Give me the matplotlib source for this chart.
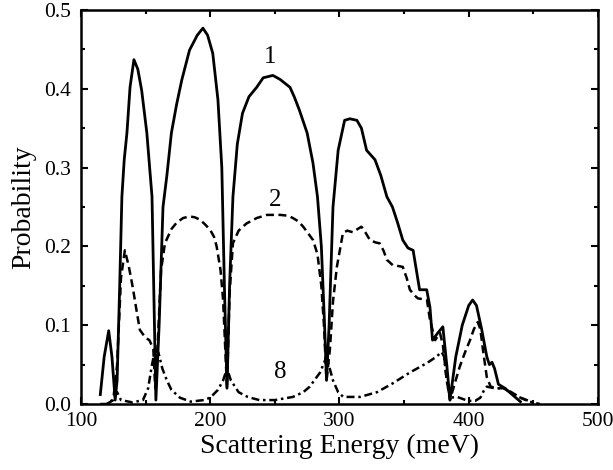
import matplotlib
matplotlib.use("Agg")
import matplotlib.pyplot as plt
from matplotlib.ticker import MultipleLocator, FormatStrFormatter

plt.rcParams['font.family'] = ['Liberation Serif', 'DejaVu Serif']

# curve 1 (solid)
e1 = [115, 118, 121.5, 124, 126.5, 128, 130, 131.7, 133.5, 135.6, 138, 141, 144, 147, 151, 155,
      158, 160.5, 163.5, 166.5, 170, 174, 178, 184, 190, 194.4, 198, 202, 206, 209, 211, 213,
      215, 217.6, 221, 225, 230, 236, 241, 248.5, 254, 261.7, 265, 269, 275, 279.5, 283, 286,
      288.5, 290, 292, 295, 299, 304, 308, 313.5, 317, 321, 327.5, 332, 336.7, 341, 345, 349,
      353, 357, 362, 367.5, 370, 372, 376, 380, 383, 385.5, 390, 395, 400, 403, 406, 410, 414,
      416, 418, 420, 423, 428, 435, 440]
p1 = [0.012, 0.06, 0.093, 0.06, 0.005, 0.03, 0.15, 0.263, 0.31, 0.344, 0.402, 0.437, 0.425, 0.398, 0.344, 0.263,
      0.005, 0.1, 0.25, 0.29, 0.344, 0.38, 0.411, 0.449, 0.468, 0.477, 0.468, 0.445, 0.386, 0.3, 0.15, 0.02,
      0.15, 0.263, 0.33, 0.369, 0.39, 0.402, 0.414, 0.417, 0.412, 0.402, 0.39, 0.373, 0.344, 0.306, 0.263, 0.2,
      0.1, 0.03, 0.1, 0.25, 0.322, 0.36, 0.362, 0.36, 0.35, 0.322, 0.31, 0.29, 0.263, 0.25, 0.23, 0.208,
      0.198, 0.195, 0.145, 0.145, 0.123, 0.081, 0.09, 0.098, 0.05, 0.005, 0.06, 0.1, 0.125, 0.132, 0.125, 0.095, 0.06,
      0.05, 0.053, 0.045, 0.025, 0.02, 0.01, 0.003]

# curve 2 (dashed)
e2 = [120, 125, 128, 131, 134, 137, 140, 143, 145.6, 150, 153, 156, 157.5, 159.5, 162, 165, 170, 174,
      179, 184, 188, 192, 196, 200, 203, 205, 208, 210, 213, 215, 217.6, 222, 228, 236, 244, 254, 260,
      264, 268, 272, 279.6, 283, 286, 288, 290, 292.6, 295, 298, 302.7, 306, 310.4, 314, 317, 320, 323.6,
      328, 331, 334, 336.7, 341.4, 346, 349, 352, 354.5, 358, 360.7, 365, 367.7, 370, 374, 377.8, 380,
      383, 385.5, 389, 393, 397, 401, 404, 407, 409, 411, 414, 417, 422, 428, 433, 440, 450]
p2 = [0.0, 0.005, 0.05, 0.16, 0.195, 0.175, 0.149, 0.119, 0.094, 0.084, 0.081, 0.07, 0.02, 0.08, 0.17, 0.204, 0.222, 0.23,
      0.236, 0.238, 0.237, 0.234, 0.228, 0.221, 0.212, 0.2, 0.17, 0.132, 0.02, 0.14, 0.204, 0.22, 0.229, 0.236, 0.24, 0.24, 0.239,
      0.236, 0.232, 0.225, 0.208, 0.19, 0.15, 0.1, 0.03, 0.069, 0.13, 0.174, 0.217, 0.22, 0.218, 0.222, 0.225, 0.218, 0.208,
      0.205, 0.204, 0.195, 0.183, 0.176, 0.175, 0.174, 0.16, 0.145, 0.138, 0.134, 0.133, 0.132, 0.107, 0.081, 0.09, 0.075,
      0.03, 0.005, 0.025, 0.047, 0.065, 0.081, 0.095, 0.104, 0.095, 0.069, 0.034, 0.022, 0.02, 0.02, 0.015, 0.008, 0.002]

# curve 8 (dash-dot)
e8 = [115, 122, 126, 128, 131, 140, 148, 152, 155, 157.5, 160, 163, 166.5, 170, 176.6, 185, 195, 200, 206,
      210, 213, 216, 222, 229, 238, 250, 264, 272, 277, 285, 290, 295, 299, 303, 316, 329, 341, 354.5, 367.7,
      375, 379, 381, 383, 385.5, 391, 399.5, 405, 409, 412, 414, 420, 427, 432, 440, 447, 455]
p8 = [0.0, 0.0, 0.01, 0.015, 0.005, 0.002, 0.005, 0.02, 0.05, 0.07, 0.065, 0.045, 0.03, 0.018, 0.008, 0.003, 0.005, 0.008, 0.018,
      0.03, 0.045, 0.03, 0.015, 0.009, 0.005, 0.005, 0.009, 0.015, 0.022, 0.04, 0.06, 0.03, 0.015, 0.009, 0.009, 0.015, 0.026, 0.04, 0.052,
      0.06, 0.066, 0.06, 0.03, 0.008, 0.009, 0.004, 0.004, 0.008, 0.018, 0.022, 0.02, 0.02, 0.015, 0.008, 0.003, 0.0]

fig = plt.figure(figsize=(6.13, 4.70), dpi=100)
ax = fig.add_axes([0.132, 0.1404, 0.8435, 0.8383])

ax.plot(e1, p1, color='black', lw=2.0, ls='-', solid_joinstyle='round')
ax.plot(e2, p2, color='black', lw=1.8, ls=(0, (3.2, 1.8)), dash_joinstyle='round')
ax.plot(e8, p8, color='black', lw=1.8, ls=(0, (3.2, 1.5, 1, 1.5)), dash_joinstyle='round')

ax.text(246, 0.44, '1', fontsize=18, ha='center', va='center')
ax.text(250, 0.259, '2', fontsize=18, ha='center', va='center')
ax.text(254.5, 0.041, '8', fontsize=18, ha='center', va='center')

ax.set_xlim(100, 500)
ax.set_ylim(0, 0.5)
ax.xaxis.set_major_locator(MultipleLocator(100))
ax.xaxis.set_minor_locator(MultipleLocator(50))
ax.yaxis.set_major_locator(MultipleLocator(0.1))
ax.yaxis.set_minor_locator(MultipleLocator(0.05))
ax.yaxis.set_major_formatter(FormatStrFormatter('%.1f'))
ax.tick_params(which='both', direction='in', top=True, right=True, labelsize=15.5, width=1.5)
ax.tick_params(which='major', length=5)
ax.tick_params(which='minor', length=3)
ax.tick_params(axis='x', which='major', pad=6)
ax.tick_params(axis='y', which='major', pad=7)
for s in ax.spines.values():
    s.set_linewidth(1.8)

ax.set_xlabel('Scattering Energy (meV)', fontsize=20, labelpad=2)
ax.set_ylabel('Probability', fontsize=20, labelpad=6)

fig.savefig('out.png', dpi=100)
